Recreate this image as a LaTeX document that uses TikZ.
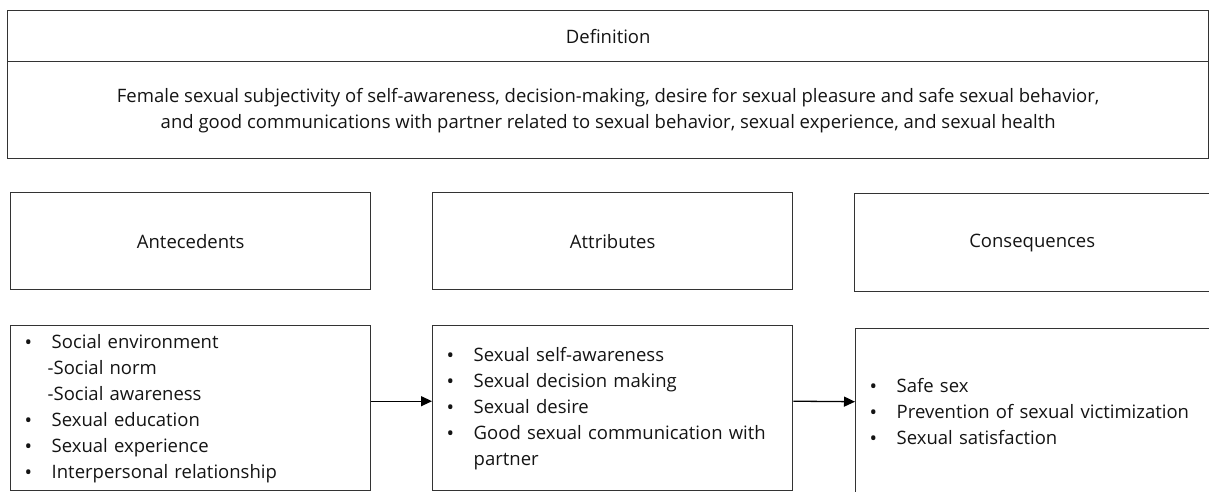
\documentclass[tikz,border=0pt]{standalone}
\usepackage{fontspec}
\setmainfont{Open Sans}
\usetikzlibrary{arrows.meta}
\newcommand\lstitem[1]{\makebox[26pt][l]{\hspace*{-1pt}\raisebox{-1.5pt}{\fontsize{20}{20}\selectfont\textbullet}}#1}
\begin{document}
\begin{tikzpicture}[x=1pt,y=-1pt,
  box/.style={draw=black!80,line width=1.4pt,rectangle,inner sep=0pt,anchor=north west},
  lbl/.style={font=\fontsize{18.5}{22}\selectfont,text=black!92},
  deftext/.style={font=\fontsize{18.5}{26}\selectfont,text=black!92,align=center},
  lst/.style={font=\fontsize{18.5}{26}\selectfont,text=black!92,align=left,inner xsep=15pt},
  conn/.style={draw=black,line width=1.3pt,-{Triangle[length=11pt,width=10pt]}}]
\useasboundingbox (0,0) rectangle (1209,491);
% definition
\node[box,lbl,minimum width=1201pt,minimum height=51pt] (defh) at (7,10) {Definition};
\node[box,deftext,minimum width=1201pt,minimum height=97pt] (defb) at (7,61)
  {Female sexual subjectivity of self-awareness, decision-making, desire for sexual pleasure and safe sexual behavior,\\
   and good communications with partner related to sexual behavior, sexual experience, and sexual health};
% headers
\node[box,lbl,minimum width=360pt,minimum height=97pt] (anth) at (10,192) {Antecedents};
\node[box,lbl,minimum width=360pt,minimum height=97pt] (atth) at (432,192) {Attributes};
\node[box,lbl,minimum width=400pt,minimum height=98pt,text width=354pt,align=center] (conh) at (854,193) {\hspace*{-45pt}Consequences};
% lists
\node[box,lst,minimum height=165pt,text width=330pt] (antl) at (10,325)
  {\lstitem{Social environment}\\
   \hspace*{22pt}-Social norm\\
   \hspace*{22pt}-Social awareness\\
   \lstitem{Sexual education}\\
   \lstitem{Sexual experience}\\
   \lstitem{Interpersonal relationship}};
\node[box,lst,minimum height=165pt,text width=330pt] (attl) at (432,325)
  {\lstitem{Sexual self-awareness}\\
   \lstitem{Sexual decision making}\\
   \lstitem{Sexual desire}\\
   \lstitem{Good sexual communication with}\\
   \hspace*{26pt}partner};
\node[box,lst,minimum height=166pt,text width=370pt] (conl) at (855,328)
  {\lstitem{Safe sex}\\
   \lstitem{Prevention of sexual victimization}\\
   \lstitem{Sexual satisfaction}};
% connectors
\draw[conn] ([yshift=7pt]antl.east) -- ([yshift=7pt]attl.west);
\draw[conn] ([yshift=7pt]attl.east) -- ([yshift=10pt]conl.west);
\end{tikzpicture}
\end{document}
